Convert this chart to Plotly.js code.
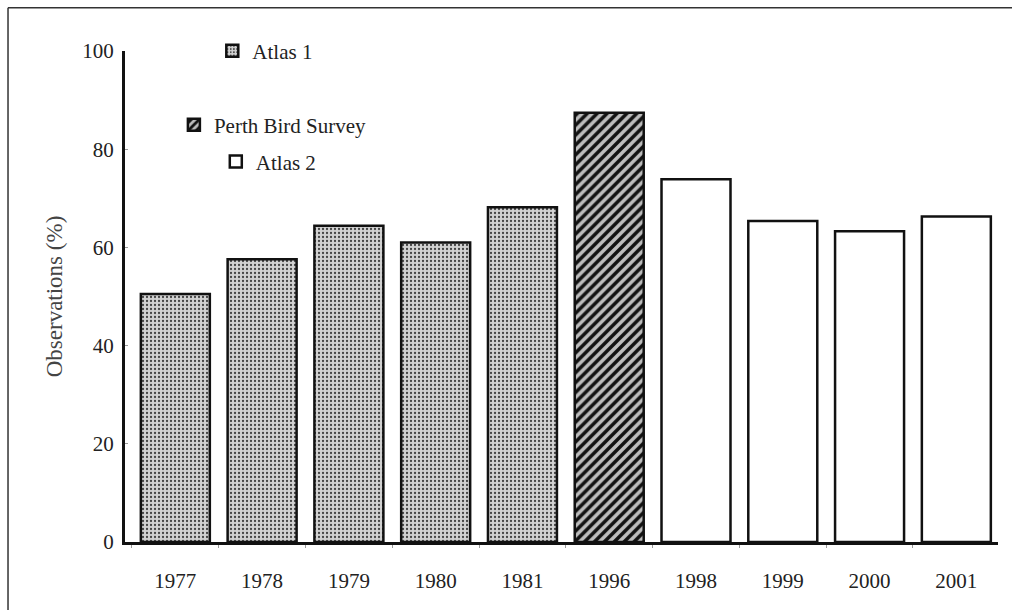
<!DOCTYPE html>
<html>
<head>
<meta charset="utf-8">
<script src="https://cdn.plot.ly/plotly-3.0.1.min.js"></script>
<style>html,body{margin:0;padding:0;background:#fff;}#chart{width:1012px;height:610px;}</style>
</head>
<body>
<div id="chart"></div>
<script>
// Data
const years = ['1977','1978','1979','1980','1981','1996','1998','1999','2000','2001'];
const atlas1Years = ['1977','1978','1979','1980','1981'];
const atlas1Values = [50.5, 57.6, 64.4, 61.0, 68.2];
const perthYears = ['1996'];
const perthValues = [87.4];
const atlas2Years = ['1998','1999','2000','2001'];
const atlas2Values = [73.9, 65.4, 63.3, 66.3];
const seriesNames = ['Atlas 1', 'Perth Bird Survey', 'Atlas 2'];
const yTicks = [0, 20, 40, 60, 80, 100];

const serif = 'Liberation Serif';
const barW = 0.795;
const outline = {color: '#111', width: 2.5};

const traces = [
  {
    type: 'bar', name: seriesNames[0], x: atlas1Years, y: atlas1Values, width: barW,
    legend: 'legend',
    marker: {color: '#c4c4c4', line: outline,
      pattern: {shape: '.', fgcolor: '#444', bgcolor: '#d2d2d2', size: 4, solidity: 0.25}},
    hoverinfo: 'x+y'
  },
  {
    type: 'bar', name: seriesNames[1], x: perthYears, y: perthValues, width: barW,
    legend: 'legend2',
    marker: {color: '#555', line: outline,
      pattern: {shape: '/', fgcolor: '#111', bgcolor: '#bdbdbd', size: 7, solidity: 0.5}},
    hoverinfo: 'x+y'
  },
  {
    type: 'bar', name: seriesNames[2], x: atlas2Years, y: atlas2Values, width: barW,
    legend: 'legend3',
    marker: {color: '#ffffff', line: outline},
    hoverinfo: 'x+y'
  }
];

const legendBase = {
  xanchor: 'left', yanchor: 'middle', bgcolor: 'rgba(0,0,0,0)', borderwidth: 0,
  font: {family: serif, size: 21, color: '#222'}
};

const layout = {
  width: 1012, height: 610,
  margin: {l: 125, r: 14, t: 51, b: 68},
  paper_bgcolor: '#fff', plot_bgcolor: '#fff',
  font: {family: serif, size: 20, color: '#222'},
  barmode: 'overlay',
  showlegend: true,
  legend: Object.assign({}, legendBase, {x: 0.100, y: 1.0}),
  legend2: Object.assign({}, legendBase, {x: 0.056, y: 0.849}),
  legend3: Object.assign({}, legendBase, {x: 0.104, y: 0.774}),
  xaxis: {
    type: 'category', categoryorder: 'array', categoryarray: years,
    range: [-0.58, 9.48],
    showline: true, linecolor: '#111', linewidth: 3,
    showgrid: false, zeroline: false,
    ticks: 'outside', tickson: 'boundaries', ticklen: 3, tickcolor: '#999', tickwidth: 1,
    ticklabelstandoff: 18,
    tickfont: {family: serif, size: 21, color: '#222'}
  },
  yaxis: {
    range: [0, 100], tickvals: yTicks, ticktext: yTicks.map(String),
    showline: true, linecolor: '#111', linewidth: 3,
    showgrid: false, zeroline: false,
    ticks: 'inside', ticklen: 3, tickcolor: '#999', tickwidth: 1,
    ticklabelstandoff: 4,
    tickfont: {family: serif, size: 21, color: '#222'},
    title: {text: 'Observations (%)', standoff: 14,
      font: {family: serif, size: 23, color: '#444'}}
  },
  shapes: [
    {type: 'line', xref: 'paper', yref: 'paper', x0: -0.134, x1: 1.02, y0: 1.088, y1: 1.088,
      line: {color: '#333', width: 1.5}},
    {type: 'line', xref: 'paper', yref: 'paper', x0: -0.134, x1: -0.134, y0: 1.088, y1: -0.2,
      line: {color: '#333', width: 1.5}}
  ]
};

Plotly.newPlot('chart', traces, layout, {displayModeBar: false, staticPlot: true});
</script>
</body>
</html>
